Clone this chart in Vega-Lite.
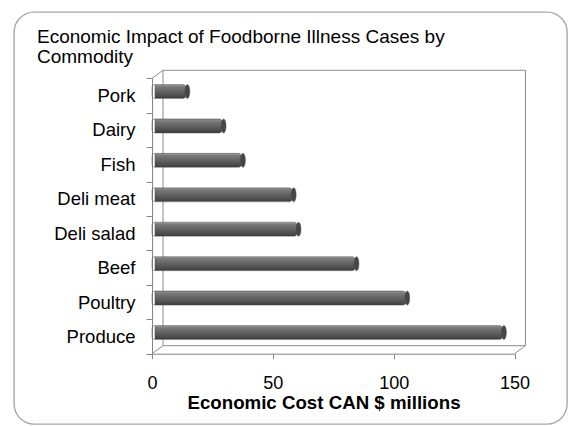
{
  "$schema": "https://vega.github.io/schema/vega-lite/v6.json",
  "width": 553,
  "height": 412,
  "autosize": {"type": "none"},
  "padding": {"left": 14, "top": 12, "right": 3, "bottom": 2},
  "background": "white",
  "title": {
    "text": ["Economic Impact of Foodborne Illness Cases by", "Commodity"],
    "anchor": "start",
    "frame": "group",
    "font": "Liberation Sans",
    "fontSize": 19,
    "fontWeight": "normal",
    "color": "black",
    "baseline": "top",
    "lineHeight": 20,
    "offset": -19,
    "dx": 23,
    "dy": 45
  },
  "config": {
    "view": {"stroke": "#a8a8a8", "strokeWidth": 1.4, "cornerRadius": 20, "fill": "white"},
    "axis": {"grid": false}
  },
  "datasets": {
    "costs": [
      {"cat": "Pork", "v": 14},
      {"cat": "Dairy", "v": 29},
      {"cat": "Fish", "v": 37},
      {"cat": "Deli meat", "v": 58},
      {"cat": "Deli salad", "v": 60},
      {"cat": "Beef", "v": 84},
      {"cat": "Poultry", "v": 105},
      {"cat": "Produce", "v": 145}
    ],
    "wall": [{"v": 0, "v2": 150, "p": 0, "p2": 8}],
    "edges": [
      {"v": 0, "p": 0},
      {"v": 0, "p": 8},
      {"v": 150, "p": 8}
    ]
  },
  "encoding": {
    "x": {
      "field": "v",
      "type": "quantitative",
      "scale": {"domain": [0, 150], "range": [138, 500.5], "nice": false, "zero": true},
      "axis": {
        "values": [0, 50, 100, 150],
        "offset": -70.3,
        "domainColor": "#868686",
        "tickColor": "#868686",
        "tickSize": 5,
        "labelFont": "Liberation Sans",
        "labelFontSize": 18,
        "labelColor": "black",
        "labelPadding": 16,
        "labelFlush": false,
        "title": "Economic Cost CAN $ millions",
        "titleFont": "Liberation Sans",
        "titleFontSize": 18.7,
        "titleFontWeight": "bold",
        "titleColor": "black",
        "titleBaseline": "top",
        "titleX": 309.5,
        "titleY": 39.5
      }
    }
  },
  "layer": [
    {
      "data": {"name": "wall"},
      "mark": {
        "type": "rect",
        "filled": false,
        "stroke": "#8c8c8c",
        "strokeWidth": 1,
        "xOffset": 11,
        "x2Offset": 11,
        "yOffset": -8,
        "y2Offset": -8
      },
      "encoding": {
        "x2": {"field": "v2"},
        "y": {"field": "p", "type": "quantitative", "scale": {"domain": [0, 8], "range": [66.3, 341.7], "nice": false, "zero": false}, "axis": null},
        "y2": {"field": "p2"}
      }
    },
    {
      "data": {"name": "edges"},
      "mark": {"type": "rule", "stroke": "#8c8c8c", "strokeWidth": 1, "x2Offset": 11, "y2Offset": -8},
      "encoding": {
        "x2": {"field": "v"},
        "y": {"field": "p", "type": "quantitative", "scale": {"domain": [0, 8], "range": [66.3, 341.7], "nice": false, "zero": false}, "axis": null},
        "y2": {"field": "p"}
      }
    },
    {
      "data": {"name": "costs"},
      "mark": {
        "type": "bar",
        "size": 14,
        "cornerRadius": 3,
        "xOffset": 3,
        "x2Offset": 3,
        "yOffset": -4,
        "stroke": "#4a4a4a",
        "strokeWidth": 0.5,
        "fill": {
          "gradient": "linear",
          "x1": 0, "y1": 0, "x2": 0, "y2": 1,
          "stops": [
            {"offset": 0, "color": "#a4a4a4"},
            {"offset": 0.15, "color": "#7a7a7a"},
            {"offset": 0.5, "color": "#626262"},
            {"offset": 0.85, "color": "#4a4a4a"},
            {"offset": 1, "color": "#383838"}
          ]
        }
      },
      "encoding": {
        "y": {
          "field": "cat",
          "type": "nominal",
          "scale": {
            "domain": ["Pork", "Dairy", "Fish", "Deli meat", "Deli salad", "Beef", "Poultry", "Produce"],
            "range": [66.3, 341.7],
            "paddingInner": 0,
            "paddingOuter": 0
          },
          "axis": {
            "offset": -138,
            "title": null,
            "tickBand": "extent",
            "tickSize": 6,
            "domainColor": "#868686",
            "tickColor": "#868686",
            "labelFont": "Liberation Sans",
            "labelFontSize": 18.5,
            "labelColor": "black",
            "labelPadding": 11
          }
        }
      }
    },
    {
      "data": {"name": "costs"},
      "mark": {
        "type": "point",
        "shape": "M 0 -1 A 0.35 1 0 1 1 0 1 A 0.35 1 0 1 1 0 -1 Z",
        "size": 196,
        "filled": true,
        "fill": "#464646",
        "stroke": "#555555",
        "strokeWidth": 0.5,
        "opacity": 1,
        "xOffset": 1.5,
        "yOffset": -4
      },
      "encoding": {
        "y": {
          "field": "cat",
          "type": "nominal",
          "scale": {
            "domain": ["Pork", "Dairy", "Fish", "Deli meat", "Deli salad", "Beef", "Poultry", "Produce"],
            "range": [66.3, 341.7],
            "paddingInner": 0,
            "paddingOuter": 0
          },
          "axis": null
        }
      }
    }
  ],
  "resolve": {"scale": {"y": "independent"}}
}
